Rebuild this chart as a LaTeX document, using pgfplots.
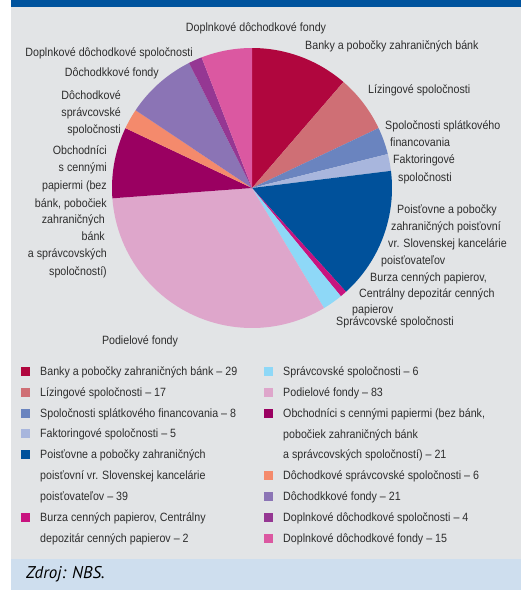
\documentclass[border=0pt]{standalone}
\usepackage{pgfplots}
\pgfplotsset{compat=1.18}
\usepackage{fontspec}
\setmainfont{Liberation Sans}[FakeStretch=0.89]
\newfontfamily\srcfont{PT Sans}
\definecolor{cBanky}{HTML}{B0063E}
\definecolor{cLiz}{HTML}{CF6F75}
\definecolor{cSplat}{HTML}{6A84BF}
\definecolor{cFakt}{HTML}{A8B6DD}
\definecolor{cPois}{HTML}{00519B}
\definecolor{cBurza}{HTML}{C8137F}
\definecolor{cSprav}{HTML}{8ED8F7}
\definecolor{cPodiel}{HTML}{DEA6CB}
\definecolor{cObch}{HTML}{9A0061}
\definecolor{cDochSp}{HTML}{F48A6C}
\definecolor{cDochF}{HTML}{8B74B5}
\definecolor{cDoplSp}{HTML}{953793}
\definecolor{cDoplF}{HTML}{DB58A1}
\definecolor{bggray}{HTML}{E2E4E6}
\definecolor{bgblue}{HTML}{CEDEEE}
\definecolor{topblue}{HTML}{00539D}
\definecolor{txt}{HTML}{2E2E2E}
\tikzset{
  lw/.style={anchor=base west, inner sep=0pt, text=txt, font=\fontsize{12}{14}\selectfont},
  le/.style={anchor=base east, inner sep=0pt, text=txt, font=\fontsize{12}{14}\selectfont},
  lc/.style={anchor=base, inner sep=0pt, text=txt, font=\fontsize{12}{14}\selectfont},
}
% pie values (clockwise from top)
\def\vBanky{29}\def\vLiz{17}\def\vSplat{8}\def\vFakt{5}\def\vPois{39}
\def\vBurza{2}\def\vSprav{6}\def\vPodiel{83}\def\vObch{21}\def\vDochSp{6}
\def\vDochF{21}\def\vDoplSp{4}\def\vDoplF{15}
\newcommand\wedgeplot[3]{%
  \addplot[fill=#3, draw=none, domain={#1*360/\cN}:{#2*360/\cN}, samples=60, variable=\t]
    ({252+140*sin(\t)},{188-140*cos(\t)}) -- (axis cs:252,188) -- cycle;}
\newcommand\sq[3]{\fill[#3] (axis cs:#1,#2-4.5) rectangle (axis cs:#1+9,#2+4.5);}
\begin{document}
\begin{tikzpicture}
\pgfmathsetmacro\cA{0}
\pgfmathsetmacro\cB{\cA+\vBanky}
\pgfmathsetmacro\cC{\cB+\vLiz}
\pgfmathsetmacro\cD{\cC+\vSplat}
\pgfmathsetmacro\cE{\cD+\vFakt}
\pgfmathsetmacro\cF{\cE+\vPois}
\pgfmathsetmacro\cG{\cF+\vBurza}
\pgfmathsetmacro\cH{\cG+\vSprav}
\pgfmathsetmacro\cI{\cH+\vPodiel}
\pgfmathsetmacro\cJ{\cI+\vObch}
\pgfmathsetmacro\cK{\cJ+\vDochSp}
\pgfmathsetmacro\cL{\cK+\vDochF}
\pgfmathsetmacro\cM{\cL+\vDoplSp}
\pgfmathsetmacro\cN{\cM+\vDoplF}
\begin{axis}[scale only axis, width=521pt, height=590pt,
  xmin=0, xmax=521, ymin=0, ymax=590, y dir=reverse, hide axis, clip=false]
\fill[white] (axis cs:0,0) rectangle (axis cs:521,590);
\fill[topblue] (axis cs:11,0) rectangle (axis cs:521,7);
\fill[bggray] (axis cs:11,7) rectangle (axis cs:521,559);
\fill[bgblue] (axis cs:11,559) rectangle (axis cs:521,590);
% pie
\wedgeplot{\cA}{\cB}{cBanky}
\wedgeplot{\cB}{\cC}{cLiz}
\wedgeplot{\cC}{\cD}{cSplat}
\wedgeplot{\cD}{\cE}{cFakt}
\wedgeplot{\cE}{\cF}{cPois}
\wedgeplot{\cF}{\cG}{cBurza}
\wedgeplot{\cG}{\cH}{cSprav}
\wedgeplot{\cH}{\cI}{cPodiel}
\wedgeplot{\cI}{\cJ}{cObch}
\wedgeplot{\cJ}{\cK}{cDochSp}
\wedgeplot{\cK}{\cL}{cDochF}
\wedgeplot{\cL}{\cM}{cDoplSp}
\wedgeplot{\cM}{\cN}{cDoplF}
% pie labels
\node[lc] at (axis cs:256,31) {Doplnkové dôchodkové fondy};
\node[lw] at (axis cs:305,49) {Banky a pobočky zahraničných bánk};
\node[le] at (axis cs:193,56) {Doplnkové dôchodkové spoločnosti};
\node[le] at (axis cs:159,76) {Dôchodkkové fondy};
\node[le] at (axis cs:121,99) {Dôchodkové};
\node[le] at (axis cs:121,116) {správcovské};
\node[le] at (axis cs:121,133) {spoločnosti};
\node[le] at (axis cs:107,154) {Obchodníci};
\node[le] at (axis cs:107,171) {s cennými};
\node[le] at (axis cs:107,189) {papiermi (bez};
\node[le] at (axis cs:107,207) {bánk, pobočiek};
\node[le] at (axis cs:105,223) {zahraničných};
\node[le] at (axis cs:105,240) {bánk};
\node[le] at (axis cs:107,257) {a správcovských};
\node[le] at (axis cs:107,275) {spoločností)};
\node[lc] at (axis cs:140,344) {Podielové fondy};
\node[lw] at (axis cs:368,93) {Lízingové spoločnosti};
\node[lw] at (axis cs:385,129) {Spoločnosti splátkového};
\node[lw] at (axis cs:390,146) {financovania};
\node[lw] at (axis cs:393,163) {Faktoringové};
\node[lw] at (axis cs:398,181) {spoločnosti};
\node[lw] at (axis cs:397,213) {Poisťovne a pobočky};
\node[lw] at (axis cs:391,230) {zahraničných poisťovní};
\node[lw] at (axis cs:388,247) {vr. Slovenskej kancelárie};
\node[lw] at (axis cs:381,264) {poisťovateľov};
\node[lw] at (axis cs:370,281) {Burza cenných papierov,};
\node[lw] at (axis cs:359,297) {Centrálny depozitár cenných};
\node[lw] at (axis cs:352,313) {papierov};
\node[lw] at (axis cs:336,325) {Správcovské spoločnosti};
% legend left
\sq{21}{371}{cBanky}
\node[lw] at (axis cs:40,375) {Banky a pobočky zahraničných bánk – 29};
\sq{21}{392}{cLiz}
\node[lw] at (axis cs:40,396) {Lízingové spoločnosti – 17};
\sq{21}{413}{cSplat}
\node[lw] at (axis cs:40,417) {Spoločnosti splátkového financovania – 8};
\sq{21}{433}{cFakt}
\node[lw] at (axis cs:40,437) {Faktoringové spoločnosti – 5};
\sq{21}{454}{cPois}
\node[lw] at (axis cs:40,458) {Poisťovne a pobočky zahraničných};
\node[lw] at (axis cs:40,479) {poisťovní vr. Slovenskej kancelárie};
\node[lw] at (axis cs:40,500) {poisťovateľov – 39};
\sq{21}{517}{cBurza}
\node[lw] at (axis cs:40,521) {Burza cenných papierov, Centrálny};
\node[lw] at (axis cs:40,542) {depozitár cenných papierov – 2};
% legend right
\sq{264}{371}{cSprav}
\node[lw] at (axis cs:283,375) {Správcovské spoločnosti – 6};
\sq{264}{392}{cPodiel}
\node[lw] at (axis cs:283,396) {Podielové fondy – 83};
\sq{264}{413}{cObch}
\node[lw] at (axis cs:283,417) {Obchodníci s cennými papiermi (bez bánk,};
\node[lw] at (axis cs:283,438) {pobočiek zahraničných bánk};
\node[lw] at (axis cs:283,458) {a správcovských spoločností) – 21};
\sq{264}{475}{cDochSp}
\node[lw] at (axis cs:283,479) {Dôchodkové správcovské spoločnosti – 6};
\sq{264}{496}{cDochF}
\node[lw] at (axis cs:283,500) {Dôchodkkové fondy – 21};
\sq{264}{517}{cDoplSp}
\node[lw] at (axis cs:283,521) {Doplnkové dôchodkové spoločnosti – 4};
\sq{264}{538}{cDoplF}
\node[lw] at (axis cs:283,542) {Doplnkové dôchodkové fondy – 15};
% source
\node[anchor=base west, inner sep=0pt, text=black, font=\srcfont\itshape\fontsize{17}{20}\selectfont] at (axis cs:26,578) {Zdroj: NBS.};
\end{axis}
\end{tikzpicture}
\end{document}
